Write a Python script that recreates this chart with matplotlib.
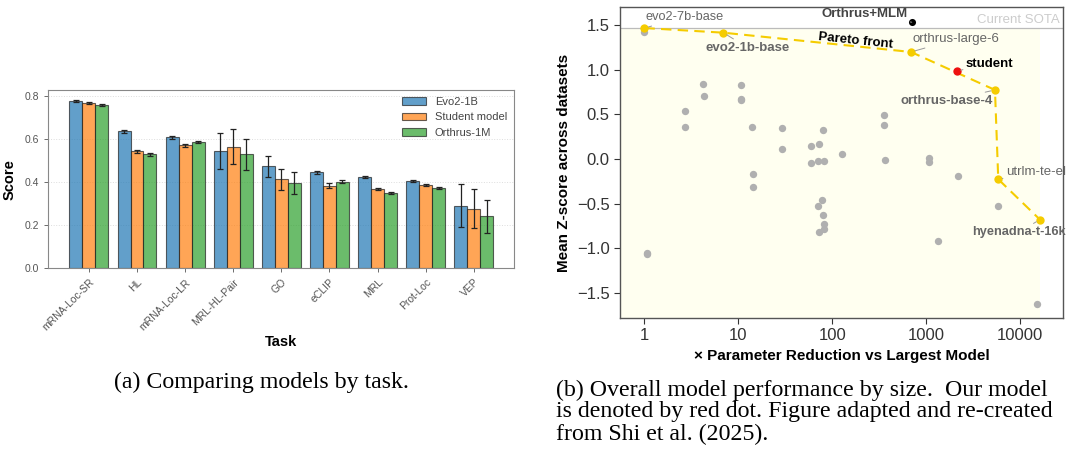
import numpy as np
import matplotlib.pyplot as plt
from matplotlib.ticker import FixedLocator, NullLocator

plt.rcParams['font.family'] = ['Liberation Sans', 'DejaVu Sans']

# (a) scores per task
tasks = ['mRNA-Loc-SR', 'HL', 'mRNA-Loc-LR', 'MRL-HL-Pair', 'GO', 'eCLIP', 'MRL', 'Prot-Loc', 'VEP']
evo2 = [0.778, 0.636, 0.608, 0.545, 0.473, 0.447, 0.426, 0.407, 0.291]
evo2_err = [0.006, 0.006, 0.005, 0.082, 0.047, 0.007, 0.005, 0.005, 0.101]
student = [0.769, 0.543, 0.571, 0.565, 0.413, 0.384, 0.367, 0.388, 0.277]
student_err = [0.004, 0.006, 0.008, 0.080, 0.050, 0.010, 0.004, 0.005, 0.090]
orthrus = [0.760, 0.529, 0.586, 0.529, 0.395, 0.402, 0.348, 0.374, 0.241]
orthrus_err = [0.004, 0.005, 0.005, 0.073, 0.050, 0.008, 0.005, 0.004, 0.077]

# (b) other models (grey dots)
other_x = [1.0, 1.06, 1.06, 2.71, 2.71, 4.24, 4.3, 10.7, 10.6, 10.6, 14.0, 14.2, 14.2,
           29.2, 29.0, 59.3, 72.1, 80.3, 59.3, 70.5, 81, 126, 78.3, 70.5, 80.3, 81, 82, 72.8,
           355, 357, 363, 1077, 1077, 2158, 5835, 1343, 14930]
other_y = [1.425, -1.048, -1.066, 0.533, 0.355, 0.842, 0.70, 0.824, 0.675, 0.657, 0.362, -0.171, -0.317,
           0.347, 0.108, 0.142, 0.164, 0.321, -0.045, -0.026, -0.022, 0.059, -0.459, -0.526, -0.63, -0.73, -0.78, -0.817,
           0.492, 0.38, -0.011, 0.008, -0.034, -0.187, -0.53, -0.917, -1.625]

# pareto front models
pareto_names = ['evo2-7b-base', 'evo2-1b-base', 'orthrus-large-6', 'orthrus-base-4', 'utrlm-te-el', 'hyenadna-t-16k']
pareto_x = [1.0, 6.9, 687, 5380, 5830, 16200]
pareto_y = [1.465, 1.413, 1.197, 0.772, -0.227, -0.679]
student_x, student_y = 2105, 0.984
mlm_x, mlm_y = 700, 1.53
sota = 1.47

fig = plt.figure(figsize=(10.66, 4.53), dpi=100)
serif = ['Liberation Serif', 'DejaVu Serif']

# ---------- (a) ----------
ax1 = fig.add_axes([0.045, 0.408, 0.437, 0.393])
x = np.arange(len(tasks))
w = 0.27
ekw = dict(ecolor='#222222', elinewidth=0.9, capsize=2, capthick=0.9)
ax1.bar(x - w, evo2, w, yerr=evo2_err, color='#1f77b4', alpha=0.7, edgecolor='#222222', linewidth=0.8, label='Evo2-1B', error_kw=ekw)
ax1.bar(x, student, w, yerr=student_err, color='#ff7f0e', alpha=0.7, edgecolor='#222222', linewidth=0.8, label='Student model', error_kw=ekw)
ax1.bar(x + w, orthrus, w, yerr=orthrus_err, color='#2ca02c', alpha=0.7, edgecolor='#222222', linewidth=0.8, label='Orthrus-1M', error_kw=ekw)
ax1.set_xlim(-0.85, 8.83)
ax1.set_ylim(0, 0.828)
ax1.set_yticks([0.0, 0.2, 0.4, 0.6, 0.8])
ax1.set_xticks(x)
ax1.set_xticklabels(tasks, rotation=45, ha='right', rotation_mode='anchor')
ax1.tick_params(labelsize=7.5, colors='#555555', length=3, width=0.6)
ax1.grid(axis='y', linestyle=':', color='#dddddd', linewidth=0.7)
ax1.set_axisbelow(True)
for s in ax1.spines.values():
    s.set_color('#888888')
    s.set_linewidth(0.8)
ax1.set_ylabel('Score', fontsize=10.5, fontweight='bold', labelpad=6)
ax1.set_xlabel('Task', fontsize=10.5, fontweight='bold', labelpad=2)
leg = ax1.legend(loc='upper right', fontsize=8, frameon=False, borderaxespad=0.2, handlelength=2.2)
for t in leg.get_texts():
    t.set_color('#444444')

fig.text(0.245, 1 - 382 / 453, '(a) Comparing models by task.', family=serif,
         fontsize=17.2, ha='center', va='center')

# ---------- (b) ----------
ax2 = fig.add_axes([0.5816, 0.298, 0.4156, 0.6865])
ax2.set_xscale('log')
ax2.set_xlim(0.55, 28500)
ax2.set_ylim(-1.78, 1.70)
ax2.fill_between([0.55, 16200], -1.78, sota, color='#fffff0', zorder=0, linewidth=0)
ax2.axhline(sota, color='#bbbbbb', linewidth=0.9, zorder=1)
ax2.text(26000, sota + 0.015, 'Current SOTA', color='#cccccc', fontsize=9.5, ha='right', va='bottom')

ax2.scatter(other_x, other_y, s=28, color='#b0b0b0', zorder=2, linewidths=0)
ax2.plot(pareto_x, pareto_y, linestyle='--', color='#f5cc00', linewidth=1.5, zorder=3, dashes=(5, 3))
ax2.scatter(pareto_x, pareto_y, s=36, color='#f5cc00', zorder=4, linewidths=0)
ax2.scatter([student_x], [student_y], s=36, color='#ee1111', zorder=5, linewidths=0)
ax2.scatter([mlm_x], [mlm_y], s=26, color='black', zorder=5, linewidths=0)

conn = dict(arrowstyle='-', color='#999999', linewidth=0.7, shrinkA=0, shrinkB=3)
# label positions (text anchor, alignment, weight, size)
lab = [
    ((1.02, 1.585), 'left', 'normal', 9.2),
    ((12.6, 1.245), 'center', 'bold', 9.5),
    ((717, 1.339), 'left', 'normal', 9.5),
    ((5085, 0.649), 'right', 'bold', 9.5),
    ((7000, -0.149), 'left', 'normal', 9.5),
    ((3050, -0.82), 'left', 'bold', 9.2),
]
for name, px, py, (pos, ha, fw, fs) in zip(pareto_names, pareto_x, pareto_y, lab):
    ax2.annotate(name, xy=(px, py), xytext=pos, ha=ha, va='center', fontsize=fs,
                 fontweight=fw, color='#666666', arrowprops=conn, annotation_clip=False, zorder=6)
ax2.annotate('student', xy=(student_x, student_y), xytext=(2625, 1.063), ha='left', va='center',
             fontsize=9.5, fontweight='bold', color='black', arrowprops=conn, zorder=6)
ax2.annotate('Orthrus+MLM', xy=(mlm_x, mlm_y), xytext=(632, 1.622), ha='right', va='center',
             fontsize=9.5, fontweight='bold', color='#444444', arrowprops=conn, zorder=6)
ax2.text(178, 1.32, 'Pareto front', fontsize=9.5, fontweight='bold', color='black',
         ha='center', va='center', rotation=-6, zorder=6)

ax2.xaxis.set_major_locator(FixedLocator([1, 10, 100, 1000, 10000]))
ax2.xaxis.set_minor_locator(NullLocator())
ax2.set_xticklabels(['1', '10', '100', '1000', '10000'])
ax2.set_yticks([-1.5, -1.0, -0.5, 0.0, 0.5, 1.0, 1.5])
ax2.tick_params(labelsize=12, colors='#333333', length=4, width=0.8)
for s in ax2.spines.values():
    s.set_color('#555555')
    s.set_linewidth(1.0)
ax2.set_ylabel('Mean Z-score across datasets', fontsize=11, fontweight='bold')
ax2.set_xlabel('\u00d7 Parameter Reduction vs Largest Model', fontsize=11, fontweight='bold', labelpad=4)

cap = ['(b) Overall model performance by size.  Our model',
       'is denoted by red dot. Figure adapted and re-created',
       'from Shi et al. (2025).']
for i, line in enumerate(cap):
    fig.text(0.5216, 1 - (390 + 22 * i) / 453, line, family=serif,
             fontsize=17.2, ha='left', va='center')

fig.savefig('out.png', dpi=100)
